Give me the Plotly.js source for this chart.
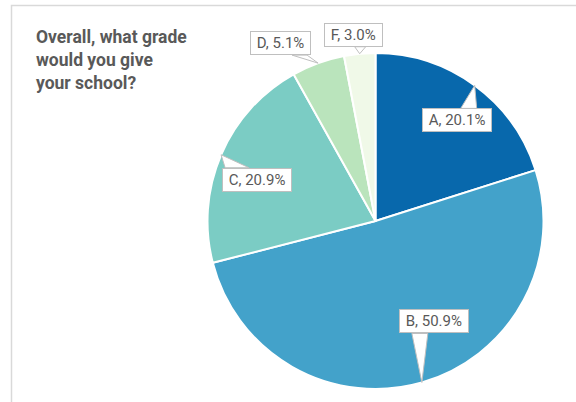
<!DOCTYPE html>
<html>
<head>
<meta charset="utf-8">
<script src="https://cdn.plot.ly/plotly-3.0.1.min.js"></script>
<style>html,body{margin:0;padding:0;background:#fff;}#chart{width:576px;height:402px;}</style>
</head>
<body>
<div id="chart"></div>
<script>
// ---- data ----
const grades = ["A", "B", "C", "D", "F"];
const shares = [20.1, 50.9, 20.9, 5.1, 3.0];
const colors = ["#0868ac", "#43a2ca", "#7bccc4", "#bae4bc", "#f0f9e8"];
const titleText = "Overall, what grade<br>would you give<br>your school?";

// ---- layout geometry (pixels) ----
const W = 576, H = 402;
const CX = 375.5, CY = 221, R = 168;
const px = x => x / W;
const py = y => 1 - y / H;

// label box offsets (box centre relative to tip) and tail base offsets
const labelStyle = [
  {ax: -18, ay: 35, base: [[4, -12], [20, -12]]},
  {ax: 12, ay: -61, base: [[-22, 12], [-6, 12]]},
  {ax: 36, ay: 25, base: [[-32, -12], [-8, -12]]},
  {ax: -38, ay: -20, base: [[12, 12], [27, 12]]},
  {ax: -6, ay: -19, base: [[1, 12], [12, 12]]}
];

const total = shares.reduce((a, b) => a + b, 0);
let cum = 0;
const annotations = [];
const shapes = [];
shares.forEach((v, i) => {
  const mid = (cum + v / 2) / total * 2 * Math.PI;
  cum += v;
  const tx = CX + R * Math.sin(mid);
  const ty = CY - R * Math.cos(mid);
  const s = labelStyle[i];
  const bx = tx + s.ax, by = ty + s.ay;
  shapes.push({
    type: "path", xref: "paper", yref: "paper", layer: "above",
    path: `M${px(tx)},${py(ty)} L${px(bx + s.base[0][0])},${py(by + s.base[0][1])} L${px(bx + s.base[1][0])},${py(by + s.base[1][1])} Z`,
    fillcolor: "#ffffff", line: {color: "#bfbfbf", width: 1}
  });
  annotations.push({
    xref: "paper", yref: "paper", x: px(bx), y: py(by),
    xanchor: "center", yanchor: "middle", showarrow: false,
    text: "&nbsp;" + grades[i] + ", " + v.toFixed(1) + "%&nbsp;",
    font: {family: "Roboto, sans-serif", size: 15, color: "#595959"},
    bgcolor: "#ffffff", bordercolor: "#bfbfbf", borderwidth: 1, borderpad: 2
  });
});

annotations.push({
  xref: "paper", yref: "paper", x: px(34), y: py(25),
  xanchor: "left", yanchor: "top", align: "left", showarrow: false,
  text: "<b>" + titleText.split("<br>").join("</b><br><b>") + "</b>",
  font: {family: "Roboto, sans-serif", size: 17.5, color: "#595959"}
});

// chart frame
shapes.push({
  type: "rect", xref: "paper", yref: "paper", layer: "below",
  x0: px(11.5), x1: px(W + 20), y0: py(H + 20), y1: py(5.5),
  line: {color: "#d9d9d9", width: 1.5}, fillcolor: "rgba(0,0,0,0)"
});

const trace = {
  type: "pie",
  labels: grades,
  values: shares,
  sort: false,
  direction: "clockwise",
  rotation: 0,
  marker: {colors: colors, line: {color: "#ffffff", width: 2}},
  textinfo: "none",
  hoverinfo: "skip",
  domain: {x: [px(CX - R), px(CX + R)], y: [py(CY + R), py(CY - R)]}
};

const layout = {
  width: W, height: H,
  margin: {l: 0, r: 0, t: 0, b: 0},
  paper_bgcolor: "#ffffff",
  showlegend: false,
  annotations: annotations,
  shapes: shapes
};

Plotly.newPlot("chart", [trace], layout, {displayModeBar: false, staticPlot: true});
</script>
</body>
</html>
